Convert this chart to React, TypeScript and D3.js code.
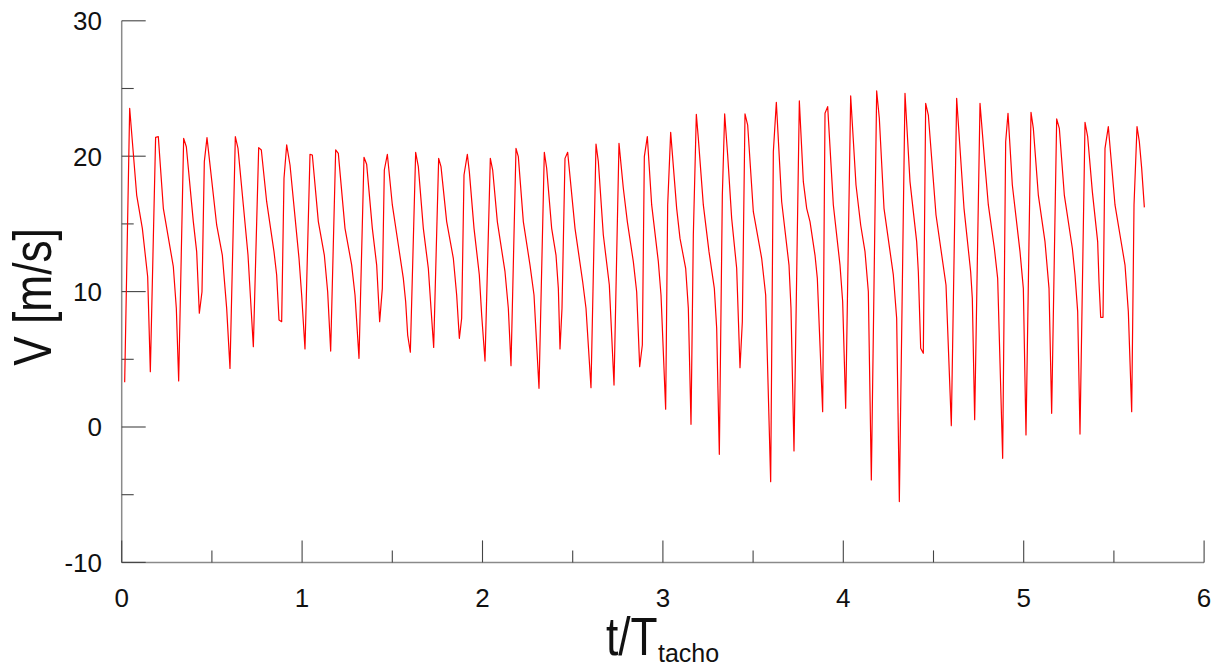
import React from "react";
import * as d3 from "d3";

// t/T_tacho sample times (vertices)
const T: number[] = [
  0.0165, 0.0442, 0.083, 0.1144, 0.144, 0.1587, 0.188, 0.203, 0.2308, 0.2862,
  0.3028, 0.3158, 0.3435, 0.3583, 0.397, 0.4156, 0.4303, 0.4451, 0.458, 0.4728,
  0.5264, 0.5578, 0.5819, 0.6003, 0.6299, 0.6447, 0.6742, 0.7001, 0.7297, 0.7593,
  0.774, 0.8036, 0.8442, 0.859, 0.872, 0.8867, 0.8997, 0.9145, 0.933, 0.9828,
  0.9976, 1.016, 1.0438, 1.0567, 1.09, 1.1232, 1.1417, 1.1584, 1.1861, 1.2008,
  1.2378, 1.2748, 1.2933, 1.3154, 1.3431, 1.3579, 1.3893, 1.4134, 1.43, 1.4447,
  1.4558, 1.4725, 1.5002, 1.5335, 1.5611, 1.5741, 1.5852, 1.6, 1.6295, 1.6443,
  1.672, 1.6997, 1.7145, 1.7293, 1.757, 1.77, 1.8014, 1.8383, 1.8568, 1.8716,
  1.8845, 1.8975, 1.9159, 1.927, 1.953, 1.9824, 1.9954, 2.0139, 2.0434, 2.0564,
  2.0822, 2.1247, 2.1432, 2.158, 2.1857, 2.1986, 2.2263, 2.2633, 2.2855, 2.3132,
  2.3427, 2.3557, 2.3834, 2.4074, 2.4204, 2.4296, 2.4407, 2.4573, 2.4721, 2.5128,
  2.5553, 2.5737, 2.6014, 2.6292, 2.6421, 2.6698, 2.703, 2.729, 2.7566, 2.7806,
  2.8028, 2.8361, 2.8546, 2.8713, 2.886, 2.8971, 2.9137, 2.9378, 2.9747, 2.9895,
  3.0153, 3.0265, 3.0431, 3.0763, 3.0948, 3.1262, 3.141, 3.1558, 3.1687, 3.1853,
  3.1964, 3.2241, 3.2555, 3.2851, 3.2981, 3.3128, 3.3295, 3.3424, 3.359, 3.3812,
  3.4089, 3.4274, 3.4403, 3.4551, 3.4699, 3.5013, 3.5475, 3.5697, 3.5974, 3.6122,
  3.6288, 3.6584, 3.699, 3.71, 3.7267, 3.7563, 3.7785, 3.797, 3.8154, 3.8431,
  3.856, 3.8856, 3.8986, 3.9134, 3.9448, 3.9817, 3.9965, 4.0132, 4.0409, 4.0704,
  4.0963, 4.1203, 4.1388, 4.1554, 4.185, 4.1997, 4.2256, 4.2773, 4.2958, 4.3106,
  4.342, 4.3697, 4.4067, 4.4159, 4.4289, 4.4436, 4.4566, 4.4714, 4.5139, 4.5693,
  4.5988, 4.6284, 4.6691, 4.706, 4.7152, 4.7282, 4.7578, 4.7855, 4.804, 4.8373,
  4.8557, 4.8834, 4.9001, 4.913, 4.937, 4.9795, 4.998, 5.0127, 5.0405, 5.0534,
  5.0811, 5.118, 5.1403, 5.155, 5.1828, 5.1975, 5.2252, 5.2696, 5.2844, 5.2992,
  5.3121, 5.3399, 5.3546, 5.3805, 5.41, 5.4174, 5.4267, 5.4396, 5.4507, 5.4691,
  5.5061, 5.5338, 5.5616, 5.58, 5.5986, 5.6115, 5.6281, 5.641, 5.654, 5.6688,
];

// V [m/s] at those times
const V: number[] = [
  3.3, 23.54, 17.13, 14.67, 11.1, 4.09, 21.39, 21.44, 16.15, 11.84,
  8.77, 3.4, 21.32, 20.7, 15.17, 12.95, 8.4, 9.99, 19.6, 21.37,
  14.92, 12.7, 8.76, 4.33, 21.44, 20.58, 16.4, 12.7, 5.93, 20.63,
  20.46, 16.64, 12.95, 11.23, 7.9, 7.78, 18.37, 20.83, 19.35, 12.46,
  9.75, 5.76, 20.14, 20.09, 15.17, 12.7, 9.99, 5.61, 20.46, 20.21,
  14.67, 11.96, 9.75, 5.07, 19.92, 19.4, 14.67, 11.96, 7.78, 10.24,
  18.98, 20.14, 16.4, 13.44, 10.98, 9.25, 6.79, 5.52, 20.29, 19.23,
  14.67, 11.72, 8.77, 5.88, 19.84, 19.23, 15.17, 12.46, 9.75, 6.55,
  8.03, 18.61, 20.14, 18.86, 14.67, 11.23, 8.27, 4.87, 19.84, 18.98,
  15.17, 11.47, 8.77, 4.53, 20.58, 19.97, 15.17, 11.96, 9.75, 2.86,
  20.29, 19.11, 14.67, 12.7, 10.24, 5.76, 8.77, 19.84, 20.29, 14.67,
  10.73, 8.77, 2.9, 20.9, 19.6, 14.18, 10.49, 3.1, 20.95, 17.63,
  15.17, 12.21, 9.99, 4.45, 6.06, 19.97, 21.44, 16.4, 12.21, 9.75,
  1.31, 16.4, 21.76, 16.15, 13.93, 11.72, 8.77, 0.2, 14.18, 23.09,
  21.32, 16.4, 12.95, 10.24, 7.29, -2.02, 17.13, 23.12, 20.09, 15.41,
  11.72, 4.38, 7.78, 23.12, 22.3, 15.9, 12.46, 9.75, -4.04, 20.33,
  23.98, 16.64, 11.96, 8.77, -1.77, 24.08, 18.12, 16.15, 15.17, 12.7,
  10.98, 1.13, 23.17, 23.66, 16.4, 11.96, 9.25, 1.38, 24.45, 17.87,
  14.92, 12.95, 9.99, -3.91, 24.82, 22.8, 16.15, 11.23, 8.03, -5.51,
  24.64, 18.12, 13.69, 11.47, 5.81, 5.44, 23.9, 23.04, 15.66, 10.49,
  0.1, 24.27, 16.15, 11.47, 9.5, 0.54, 23.9, 19.3, 16.4, 13.2,
  10.98, -2.31, 21.07, 23.17, 17.87, 12.95, 10.24, -0.59, 23.24, 22.06,
  17.13, 13.69, 10.24, 1.01, 22.75, 22.06, 17.13, 13.2, 11.23, 8.52,
  -0.52, 22.5, 21.44, 17.38, 13.69, 10.73, 8.1, 8.1, 20.58, 22.18,
  16.4, 14.18, 11.96, 8.52, 1.13, 16.4, 22.18, 21.07, 19.1, 16.22,
];

const X_MAJOR = [0, 1, 2, 3, 4, 5, 6];
const X_MINOR = [0.5, 1.5, 2.5, 3.5, 4.5, 5.5];
const Y_MAJOR = [-10, 0, 10, 20, 30];
const Y_MINOR = [-5, 5, 15, 25];

export default function App() {
  const W = 1222;
  const H = 668;
  const x = d3.scaleLinear().domain([0, 6]).range([121.7, 1204.1]);
  const y = d3.scaleLinear().domain([-10, 30]).range([562.4, 20.8]);
  const pts: [number, number][] = T.map((t, i) => [t, V[i]]);
  const line = d3
    .line<[number, number]>()
    .x((d) => x(d[0]))
    .y((d) => y(d[1]));

  const x0 = x(0);
  const yb = y(-10);
  const font = "'Liberation Sans', Arial, sans-serif";
  const axisColor = "#8a8a8a";
  const tickColor = "#444";

  return (
    <svg
      width={W}
      height={H}
      style={{ position: "absolute", left: 0, top: 0, background: "#fff" }}
      fontFamily={font}
    >
      {/* axis lines */}
      <line x1={x0} x2={x0} y1={y(30)} y2={yb} stroke={axisColor} strokeWidth={1.5} />
      <line x1={x0} x2={x(6)} y1={yb} y2={yb} stroke={axisColor} strokeWidth={1.5} />

      {/* y ticks */}
      {Y_MAJOR.map((v) => (
        <g key={"ym" + v}>
          <line x1={x0} x2={x0 + 24} y1={y(v)} y2={y(v)} stroke={tickColor} strokeWidth={1.1} />
          <text x={102} y={y(v) + 9.3} fontSize={26} textAnchor="end" fill="#111">
            {v}
          </text>
        </g>
      ))}
      {Y_MINOR.map((v) => (
        <line key={"yn" + v} x1={x0} x2={x0 + 12} y1={y(v)} y2={y(v)} stroke={tickColor} strokeWidth={1.1} />
      ))}

      {/* x ticks */}
      {X_MAJOR.map((v) => (
        <g key={"xm" + v}>
          <line x1={x(v)} x2={x(v)} y1={yb} y2={yb - 22} stroke={tickColor} strokeWidth={1.1} />
          <text x={x(v)} y={607} fontSize={26} textAnchor="middle" fill="#111">
            {v}
          </text>
        </g>
      ))}
      {X_MINOR.map((v) => (
        <line key={"xn" + v} x1={x(v)} x2={x(v)} y1={yb} y2={yb - 12} stroke={tickColor} strokeWidth={1.1} />
      ))}

      {/* data */}
      <path d={line(pts) || ""} fill="none" stroke="#ff0000" strokeWidth={1.2} strokeLinejoin="round" />

      {/* axis titles */}
      <text
        transform="translate(51,297) rotate(-90) scale(0.82,1)"
        fontSize={54}
        textAnchor="middle"
        fill="#111"
      >
        V [m/s]
      </text>
      <text transform="translate(606,655) scale(0.82,1)" fontSize={54} fill="#111">
        t/T
      </text>
      <text x={658} y={662} fontSize={25} fill="#111">
        tacho
      </text>
    </svg>
  );
}
